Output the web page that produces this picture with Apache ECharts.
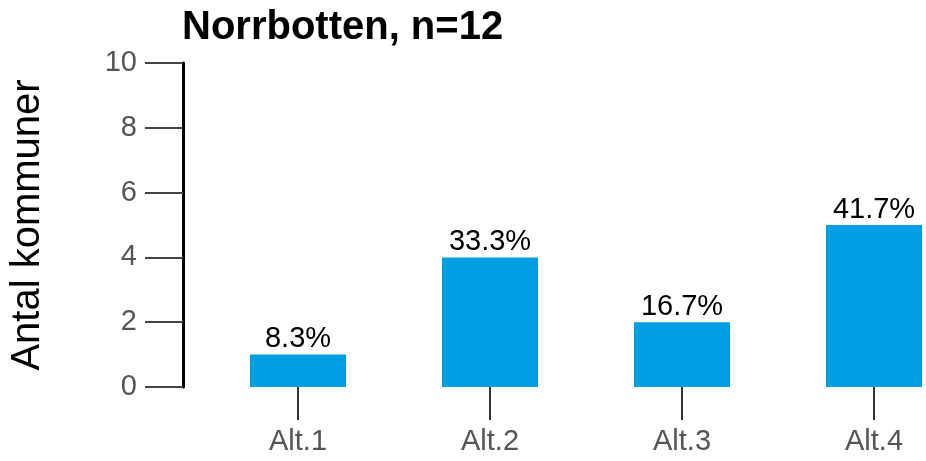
<!DOCTYPE html>
<html>
<head>
<meta charset="utf-8">
<script src="https://cdn.jsdelivr.net/npm/echarts@6/dist/echarts.min.js"></script>
<style>
  html, body { margin: 0; padding: 0; background: #fff; overflow: hidden; }
  /* the plot runs past the right edge of the window, as in the original */
  #chart { width: 970px; height: 461px; }
</style>
</head>
<body>
<div id="chart"></div>
<script>
const categories = ["Alt.1", "Alt.2", "Alt.3", "Alt.4"];
const counts = [1, 4, 2, 5];
const percentLabels = ["8.3%", "33.3%", "16.7%", "41.7%"];
const yTicks = [0, 2, 4, 6, 8, 10];

const chart = echarts.init(document.getElementById("chart"));
chart.setOption({
  animation: false,
  title: {
    text: "Norrbotten, n=12",
    left: 177,
    top: 3,
    textStyle: { fontFamily: "Liberation Sans", fontWeight: "bold", fontSize: 40, color: "#000" }
  },
  grid: { left: 202, right: 0, top: 63, bottom: 74, outerBoundsMode: "none" },
  xAxis: {
    type: "category",
    data: categories,
    axisLine: { show: false },
    axisTick: { show: true, alignWithLabel: true, length: 33, lineStyle: { color: "#333", width: 2 } },
    axisLabel: { margin: 40, fontSize: 29, color: "#555", fontFamily: "Liberation Sans" }
  },
  yAxis: {
    type: "value",
    min: yTicks[0],
    max: yTicks[yTicks.length - 1],
    interval: yTicks[1] - yTicks[0],
    offset: 19,
    name: "Antal kommuner",
    nameLocation: "middle",
    nameGap: 135,
    nameTextStyle: { fontSize: 40, color: "#000", fontFamily: "Liberation Sans" },
    splitLine: { show: false },
    axisLine: { show: true, lineStyle: { color: "#000", width: 3 } },
    axisTick: { show: true, length: 38, lineStyle: { color: "#444", width: 2 } },
    axisLabel: { margin: 46, fontSize: 29, color: "#555", fontFamily: "Liberation Sans" }
  },
  series: [{
    type: "bar",
    data: counts,
    barWidth: "50%",
    itemStyle: { color: "#009FE3" },
    label: {
      show: true,
      position: "top",
      distance: 1,
      fontSize: 29,
      color: "#000",
      fontFamily: "Liberation Sans",
      formatter: p => percentLabels[p.dataIndex]
    }
  }]
});
</script>
</body>
</html>
